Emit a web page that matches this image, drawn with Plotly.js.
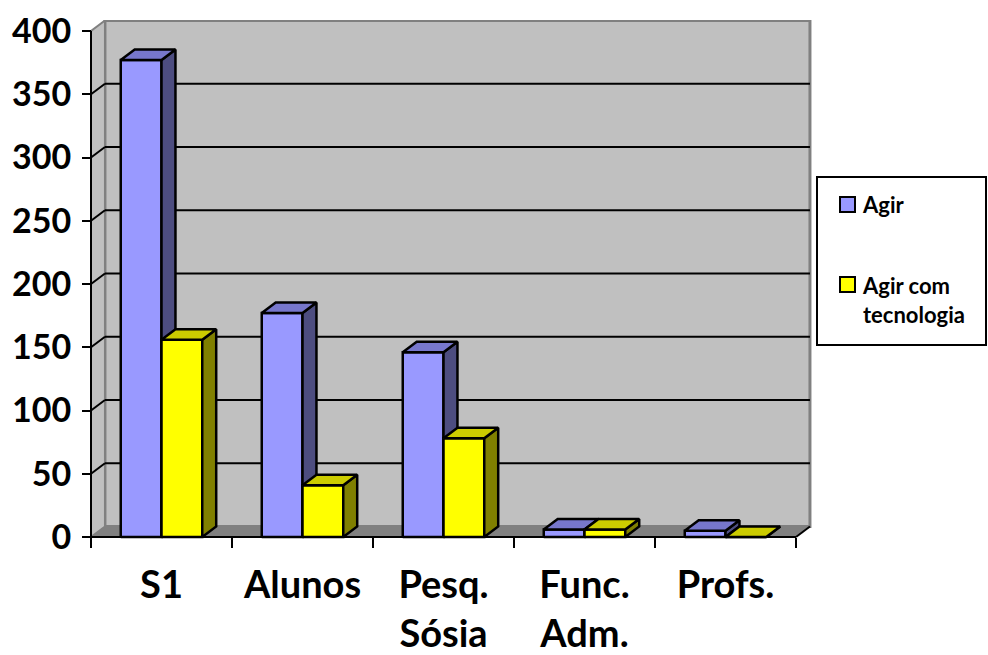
<!DOCTYPE html>
<html><head><meta charset="utf-8">
<script src="https://cdn.plot.ly/plotly-3.0.1.min.js"></script>
<style>html,body{margin:0;padding:0;background:#fff}#chart{width:988px;height:655px}</style>
</head><body><div id="chart"></div>
<script>
// ---- data ----
const categories = ['S1', 'Alunos', 'Pesq.<br>Sósia', 'Func.<br>Adm.', 'Profs.'];
const agir = [377, 177, 146, 6, 5];
const agirTecnologia = [156, 41, 78, 6, 0];
const seriesNames = ['Agir', 'Agir com<br>tecnologia'];
const yTickValues = [0, 50, 100, 150, 200, 250, 300, 350, 400];

// ---- geometry / style ----
const BAR_W = 0.289, DX = 0.099, DY = 8.3, Y_MAX = 400;
const X0 = -0.5, X1 = categories.length - 0.5;
const PL = 88, PR = 812, PT = 20, PB = 540;       // plot area in px
const XMIN = -0.5213, XMAX = 4.6135, YMIN = -2.372, YMAX = 408.7;
const FONT = {family: 'Lato, "DejaVu Sans", sans-serif', color: '#000', weight: 700};
const px = x => (x - PL) / (PR - PL);
const py = y => (PB - y) / (PB - PT);

function push(o, pts) { pts.forEach(p => { o.x.push(p[0]); o.y.push(p[1]); }); o.x.push(null); o.y.push(null); }
function faces(values, offset) {
  const front = {x: [], y: []}, side = {x: [], y: []}, top = {x: [], y: []};
  values.forEach((v, i) => {
    const a = i + offset, b = a + BAR_W;
    push(front, [[a, 0], [b, 0], [b, v], [a, v], [a, 0]]);
    push(side, [[b, 0], [b + DX, DY], [b + DX, v + DY], [b, v], [b, 0]]);
    push(top, [[a, v], [b, v], [b + DX, v + DY], [a + DX, v + DY], [a, v]]);
  });
  return {front, side, top};
}
function faceTrace(d, color) {
  return {type: 'scatter', mode: 'lines', x: d.x, y: d.y, fill: 'toself', fillcolor: color,
    line: {color: '#000', width: 2.5}, hoverinfo: 'skip', showlegend: false, connectgaps: false};
}
const fa = faces(agir, -BAR_W), ft = faces(agirTecnologia, 0);
const colA = {front: '#9999FF', side: '#4D4D80', top: '#7777CC'};
const colT = {front: '#FFFF00', side: '#808000', top: '#CCCC00'};
const traces = [
  faceTrace(fa.front, colA.front), faceTrace(fa.side, colA.side), faceTrace(fa.top, colA.top),
  faceTrace(ft.front, colT.front), faceTrace(ft.side, colT.side), faceTrace(ft.top, colT.top)
];

// ---- walls, floor, gridlines ----
const shapes = [];
shapes.push({type: 'rect', xref: 'x', yref: 'y', x0: X0 + DX, x1: X1 + DX, y0: DY, y1: Y_MAX + DY,
  fillcolor: '#C0C0C0', line: {color: '#808080', width: 3}, layer: 'below'});
shapes.push({type: 'path', xref: 'x', yref: 'y', layer: 'below',
  path: `M${X0},0 L${X0},${Y_MAX} L${X0 + DX},${Y_MAX + DY} L${X0 + DX},${DY} Z`,
  fillcolor: '#C0C0C0', line: {color: '#808080', width: 2}});
shapes.push({type: 'path', xref: 'x', yref: 'y', layer: 'below',
  path: `M${X0},0 L${X1},0 L${X1 + DX},${DY} L${X0 + DX},${DY} Z`,
  fillcolor: '#808080', line: {width: 0}});
yTickValues.filter(v => v > 0 && v < Y_MAX).forEach(v => {
  shapes.push({type: 'line', xref: 'x', yref: 'y', layer: 'below', x0: X0 + DX, x1: X1 + DX, y0: v + DY, y1: v + DY,
    line: {color: '#000', width: 2}});
  shapes.push({type: 'line', xref: 'x', yref: 'y', layer: 'below', x0: X0, x1: X0 + DX, y0: v, y1: v + DY,
    line: {color: '#000', width: 2}});
});
shapes.push({type: 'line', xref: 'x', yref: 'y', x0: X0, x1: X0, y0: 0, y1: Y_MAX, line: {color: '#000', width: 2}});
shapes.push({type: 'line', xref: 'x', yref: 'y', x0: X0, x1: X1, y0: 0, y1: 0, line: {color: '#000', width: 2}});
shapes.push({type: 'line', xref: 'x', yref: 'y', x0: X1, x1: X1 + DX, y0: 0, y1: DY, line: {color: '#000', width: 2}});

// ---- legend (manual) ----
shapes.push({type: 'rect', xref: 'paper', yref: 'paper', x0: px(817), x1: px(986), y0: py(177), y1: py(345),
  fillcolor: '#fff', line: {color: '#000', width: 2}});
shapes.push({type: 'rect', xref: 'paper', yref: 'paper', x0: px(840), x1: px(855), y0: py(197), y1: py(212),
  fillcolor: colA.front, line: {color: '#000', width: 2}});
shapes.push({type: 'rect', xref: 'paper', yref: 'paper', x0: px(840), x1: px(855), y0: py(277), y1: py(292),
  fillcolor: colT.front, line: {color: '#000', width: 2}});
const annotations = [
  {xref: 'paper', yref: 'paper', x: px(860), y: py(205), xanchor: 'left', yanchor: 'middle', showarrow: false,
    text: seriesNames[0], font: Object.assign({size: 22}, FONT), align: 'left'},
  {xref: 'paper', yref: 'paper', x: px(860), y: py(270), xanchor: 'left', yanchor: 'top', showarrow: false,
    text: seriesNames[1], font: Object.assign({size: 22}, FONT), align: 'left'}
];

const boundaries = categories.map((c, i) => i - 0.5).concat([X1]);
const layout = {
  width: 988, height: 655,
  margin: {l: PL, r: 988 - PR, t: PT, b: 655 - PB, pad: 0},
  paper_bgcolor: '#fff', plot_bgcolor: 'rgba(0,0,0,0)',
  showlegend: false,
  xaxis: {range: [XMIN, XMAX], anchor: 'free', position: py(537), tickvals: categories.map((c, i) => i), ticktext: categories,
    ticks: '', showgrid: false, zeroline: false, showline: false, fixedrange: true,
    tickfont: Object.assign({size: 38}, FONT), ticklabelstandoff: 22,
    minor: {tickvals: boundaries, ticks: 'outside', ticklen: 10, tickwidth: 2, tickcolor: '#000', showgrid: false}},
  yaxis: {range: [YMIN, YMAX], anchor: 'free', position: px(91), tickvals: yTickValues, ticktext: yTickValues.map(String),
    ticks: 'outside', ticklen: 9, tickwidth: 2, tickcolor: '#000', showgrid: false, zeroline: false, showline: false,
    fixedrange: true, tickfont: Object.assign({size: 34}, FONT), ticklabelstandoff: 4},
  shapes: shapes, annotations: annotations
};
Plotly.newPlot('chart', traces, layout, {displayModeBar: false, staticPlot: true});
</script></body></html>
